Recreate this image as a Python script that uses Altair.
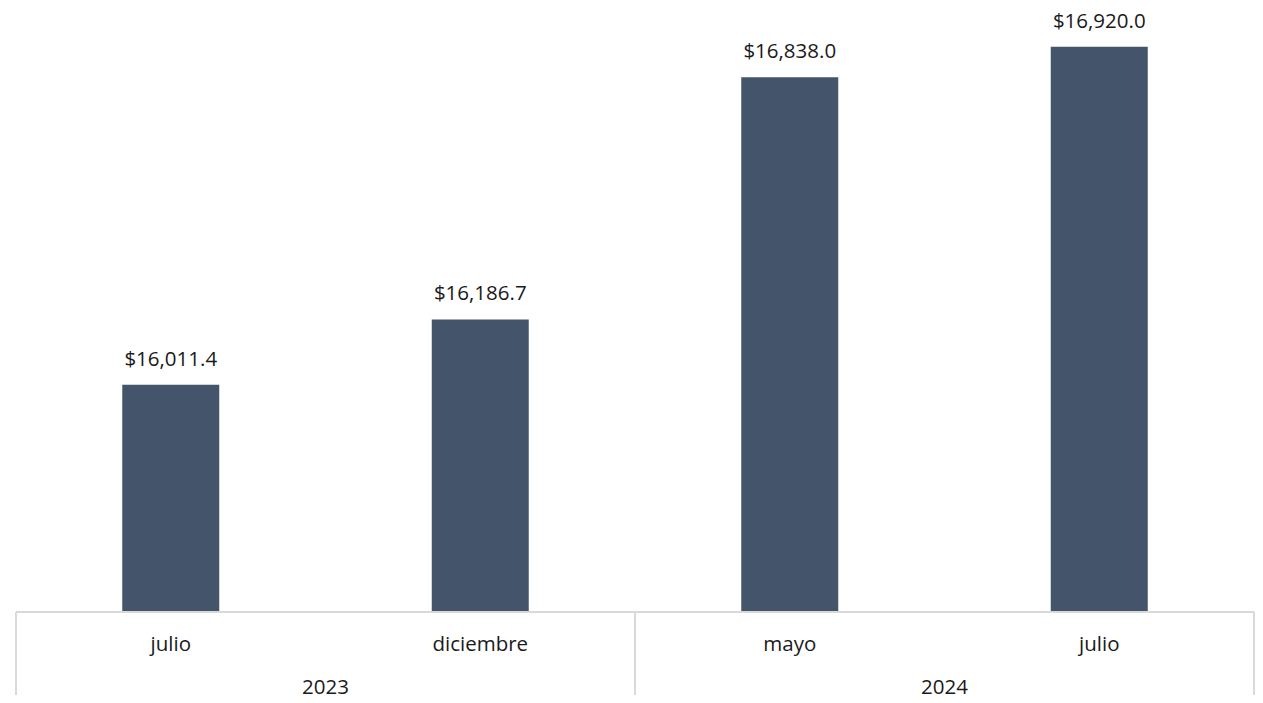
import altair as alt
import pandas as pd

keys = ["2023-julio", "2023-diciembre", "2024-mayo", "2024-julio"]
months = ["julio", "diciembre", "mayo", "julio"]
years = ["2023", "2023", "2024", "2024"]
values = [16011.4, 16186.7, 16838.0, 16920.0]

df = pd.DataFrame({"key": keys, "month": months, "year": years, "value": values})
df["label"] = ["$" + f"{v:,.1f}" for v in values]

year_labels = pd.DataFrame({"key": ["2023-julio", "2024-mayo"], "year": ["2023", "2024"]})
seps_left = pd.DataFrame({"key": ["2023-julio", "2024-mayo"]})
seps_right = pd.DataFrame({"key": ["2024-julio"]})

W, H = 1238, 595
FONT = "Open Sans"
FS = 20.5
GRID = "#d9d9d9"
TXT = "#1a1a1a"

xscale = alt.Scale(domain=keys, paddingInner=0, paddingOuter=0)
xenc = alt.X("key:N", scale=xscale, axis=None)

bars = alt.Chart(df).mark_bar(color="#44546a", size=97, clip=True).encode(
    x=xenc,
    y=alt.Y("value:Q", axis=None, scale=alt.Scale(domain=[15400, 17000], zero=False)),
)

labels = alt.Chart(df).mark_text(dy=-25, fontSize=FS, font=FONT, color=TXT).encode(
    x=xenc, y=alt.Y("value:Q"), text="label:N"
)

base_rule = alt.Chart(seps_right).mark_rule(color=GRID, strokeWidth=2).encode(
    x=alt.value(0), x2=alt.value(W), y=alt.value(H)
)

sep_left = alt.Chart(seps_left).mark_rule(color=GRID, strokeWidth=2).encode(
    x=alt.X("key:N", scale=xscale, axis=None, bandPosition=0),
    y=alt.value(H), y2=alt.value(H + 100)
)
sep_right = alt.Chart(seps_right).mark_rule(color=GRID, strokeWidth=2).encode(
    x=alt.X("key:N", scale=xscale, axis=None, bandPosition=1),
    y=alt.value(H), y2=alt.value(H + 100)
)

month_text = alt.Chart(df).mark_text(fontSize=FS, font=FONT, color=TXT).encode(
    x=xenc, y=alt.value(H + 33), text="month:N"
)

year_text = alt.Chart(year_labels).mark_text(fontSize=FS, font=FONT, color=TXT).encode(
    x=alt.X("key:N", scale=xscale, axis=None, bandPosition=1),
    y=alt.value(H + 76), text="year:N"
)

chart = alt.layer(bars, labels, sep_left, sep_right, base_rule, month_text, year_text).properties(
    width=W, height=H,
    padding={"left": 8, "top": 9, "right": 1, "bottom": 83},
    autosize=alt.AutoSizeParams(type="none"),
).configure_view(stroke=None)

chart.save("out.html", embed_options={"renderer": "svg", "actions": False})
